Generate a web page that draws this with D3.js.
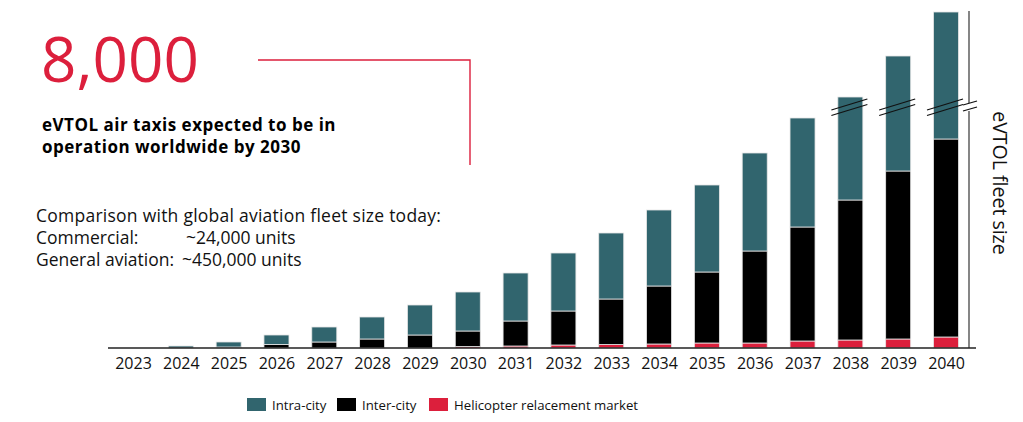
<!DOCTYPE html>
<html>
<head>
<meta charset="utf-8">
<script src="https://cdn.jsdelivr.net/npm/d3@7"></script>
<style>
  html, body { margin: 0; padding: 0; background: #fff; }
  svg { display: block; font-family: "Open Sans", "Noto Sans", sans-serif; }
</style>
</head>
<body>
<svg id="chart" width="1023" height="422"></svg>
<script>
// ---- data (relative fleet size units) ----
const years = ["2023","2024","2025","2026","2027","2028","2029","2030","2031","2032","2033","2034","2035","2036","2037","2038","2039","2040"];
const helicopter = [0, 0, 0, 0, 0, 0, 0, 1.5, 2, 3, 3.5, 4, 5, 5, 7, 8, 9, 11];
const interCity  = [0, 0, 1, 3.5, 6, 9, 13, 15.5, 25, 34, 45.5, 58, 71, 92, 114, 140, 168, 198];
const intraCity  = [0, 2, 5, 9.5, 15, 22, 30, 39, 48, 58, 66, 76, 87, 98, 109, 103, 115, 127];
const seriesNames = ["Helicopter relacement market", "Inter-city", "Intra-city"];
const legendNames = ["Intra-city", "Inter-city", "Helicopter relacement market"];
const brokenYears = ["2038", "2039", "2040"];

const colors = {
  "Intra-city": "#31656e",
  "Inter-city": "#000000",
  "Helicopter relacement market": "#dc1f3c"
};
const red = "#dc1f3c";

const svg = d3.select("#chart");

// ---- scales ----
const x = d3.scalePoint().domain(years).range([133, 946]);
const barW = 25;
const y = d3.scaleLinear().domain([0, 337]).range([348, 11]);

// ---- stacked data ----
const rows = years.map((yr, i) => ({
  year: yr,
  "Helicopter relacement market": helicopter[i],
  "Inter-city": interCity[i],
  "Intra-city": intraCity[i]
}));
const stacked = d3.stack().keys(seriesNames)(rows);

const gBars = svg.append("g");
gBars.selectAll("g.series")
  .data(stacked)
  .join("g")
  .attr("class", "series")
  .attr("fill", d => colors[d.key])
  .selectAll("rect")
  .data(d => d.filter(s => s[1] - s[0] > 0))
  .join("rect")
  .attr("x", d => x(d.data.year) - barW / 2)
  .attr("y", d => y(d[1]))
  .attr("width", barW)
  .attr("height", d => Math.max(0, y(d[0]) - y(d[1])))
  .attr("stroke", "#e6e6e6")
  .attr("stroke-width", 0.8);

// ---- break marks on tall bars ----
const breakY = y(240);
const gBreak = svg.append("g").attr("stroke", "#111").attr("stroke-width", 1.3);
brokenYears.forEach(yr => {
  const cx = x(yr);
  [0, 5.5].forEach(off => {
    gBreak.append("line")
      .attr("x1", cx - 19).attr("y1", breakY + 2 + off)
      .attr("x2", cx + 17).attr("y2", breakY - 9 + off);
  });
});

// ---- right axis line with break ----
const axisX = 969;
svg.append("line").attr("x1", axisX).attr("x2", axisX)
  .attr("y1", y(337)).attr("y2", breakY - 5)
  .attr("stroke", "#444").attr("stroke-width", 1.3);
svg.append("line").attr("x1", axisX).attr("x2", axisX)
  .attr("y1", breakY + 3).attr("y2", y(0))
  .attr("stroke", "#444").attr("stroke-width", 1.3);
[0, 6].forEach(off => {
  svg.append("line")
    .attr("x1", axisX - 6).attr("y1", breakY - 3 + off)
    .attr("x2", axisX + 8).attr("y2", breakY - 7 + off)
    .attr("stroke", "#111").attr("stroke-width", 1.2);
});

// ---- bottom axis ----
svg.append("line")
  .attr("x1", 108).attr("x2", 976)
  .attr("y1", y(0)).attr("y2", y(0))
  .attr("stroke", "#222").attr("stroke-width", 1.5);

const xAxis = svg.append("g")
  .attr("transform", `translate(0,${y(0)})`)
  .call(d3.axisBottom(x).tickSize(0).tickPadding(10));
xAxis.select(".domain").remove();
xAxis.selectAll("text")
  .attr("font-family", "'Open Sans', sans-serif")
  .attr("font-size", 16)
  .attr("fill", "#111");

// ---- y axis title ----
svg.append("text")
  .attr("transform", "translate(993,183) rotate(90)")
  .attr("text-anchor", "middle")
  .attr("font-size", 19.5)
  .attr("fill", "#111")
  .text("eVTOL fleet size");

// ---- headline annotation ----
svg.append("text")
  .attr("x", 41).attr("y", 82)
  .attr("font-size", 62)
  .attr("fill", red)
  .text("8,000");

svg.append("text")
  .attr("x", 42).attr("y", 131)
  .attr("font-size", 17)
  .attr("letter-spacing", 0.5)
  .attr("font-weight", "bold")
  .attr("fill", "#000")
  .text("eVTOL air taxis expected to be in");
svg.append("text")
  .attr("x", 42).attr("y", 153)
  .attr("font-size", 17)
  .attr("letter-spacing", 0.5)
  .attr("font-weight", "bold")
  .attr("fill", "#000")
  .text("operation worldwide by 2030");

svg.append("polyline")
  .attr("points", "258,60 470,60 470,165")
  .attr("fill", "none")
  .attr("stroke", red)
  .attr("stroke-width", 1.4);

// ---- comparison text ----
const cmp = svg.append("g").attr("font-size", 17.5).attr("fill", "#111");
cmp.append("text").attr("x", 36).attr("y", 222).attr("letter-spacing", 0.25)
  .text("Comparison with global aviation fleet size today:");
cmp.append("text").attr("x", 36).attr("y", 244).text("Commercial:");
cmp.append("text").attr("x", 186).attr("y", 244).text("~24,000 units");
cmp.append("text").attr("x", 36).attr("y", 266).text("General aviation:");
cmp.append("text").attr("x", 182).attr("y", 266).text("~450,000 units");

// ---- legend ----
const legendX = [247, 337, 429];
const lg = svg.append("g");
legendNames.forEach((name, i) => {
  lg.append("rect")
    .attr("x", legendX[i]).attr("y", 398)
    .attr("width", 19).attr("height", 13)
    .attr("fill", colors[name]);
  lg.append("text")
    .attr("x", legendX[i] + 25).attr("y", 410)
    .attr("font-size", 13.2)
    .attr("fill", "#111")
    .text(name);
});
</script>
</body>
</html>
